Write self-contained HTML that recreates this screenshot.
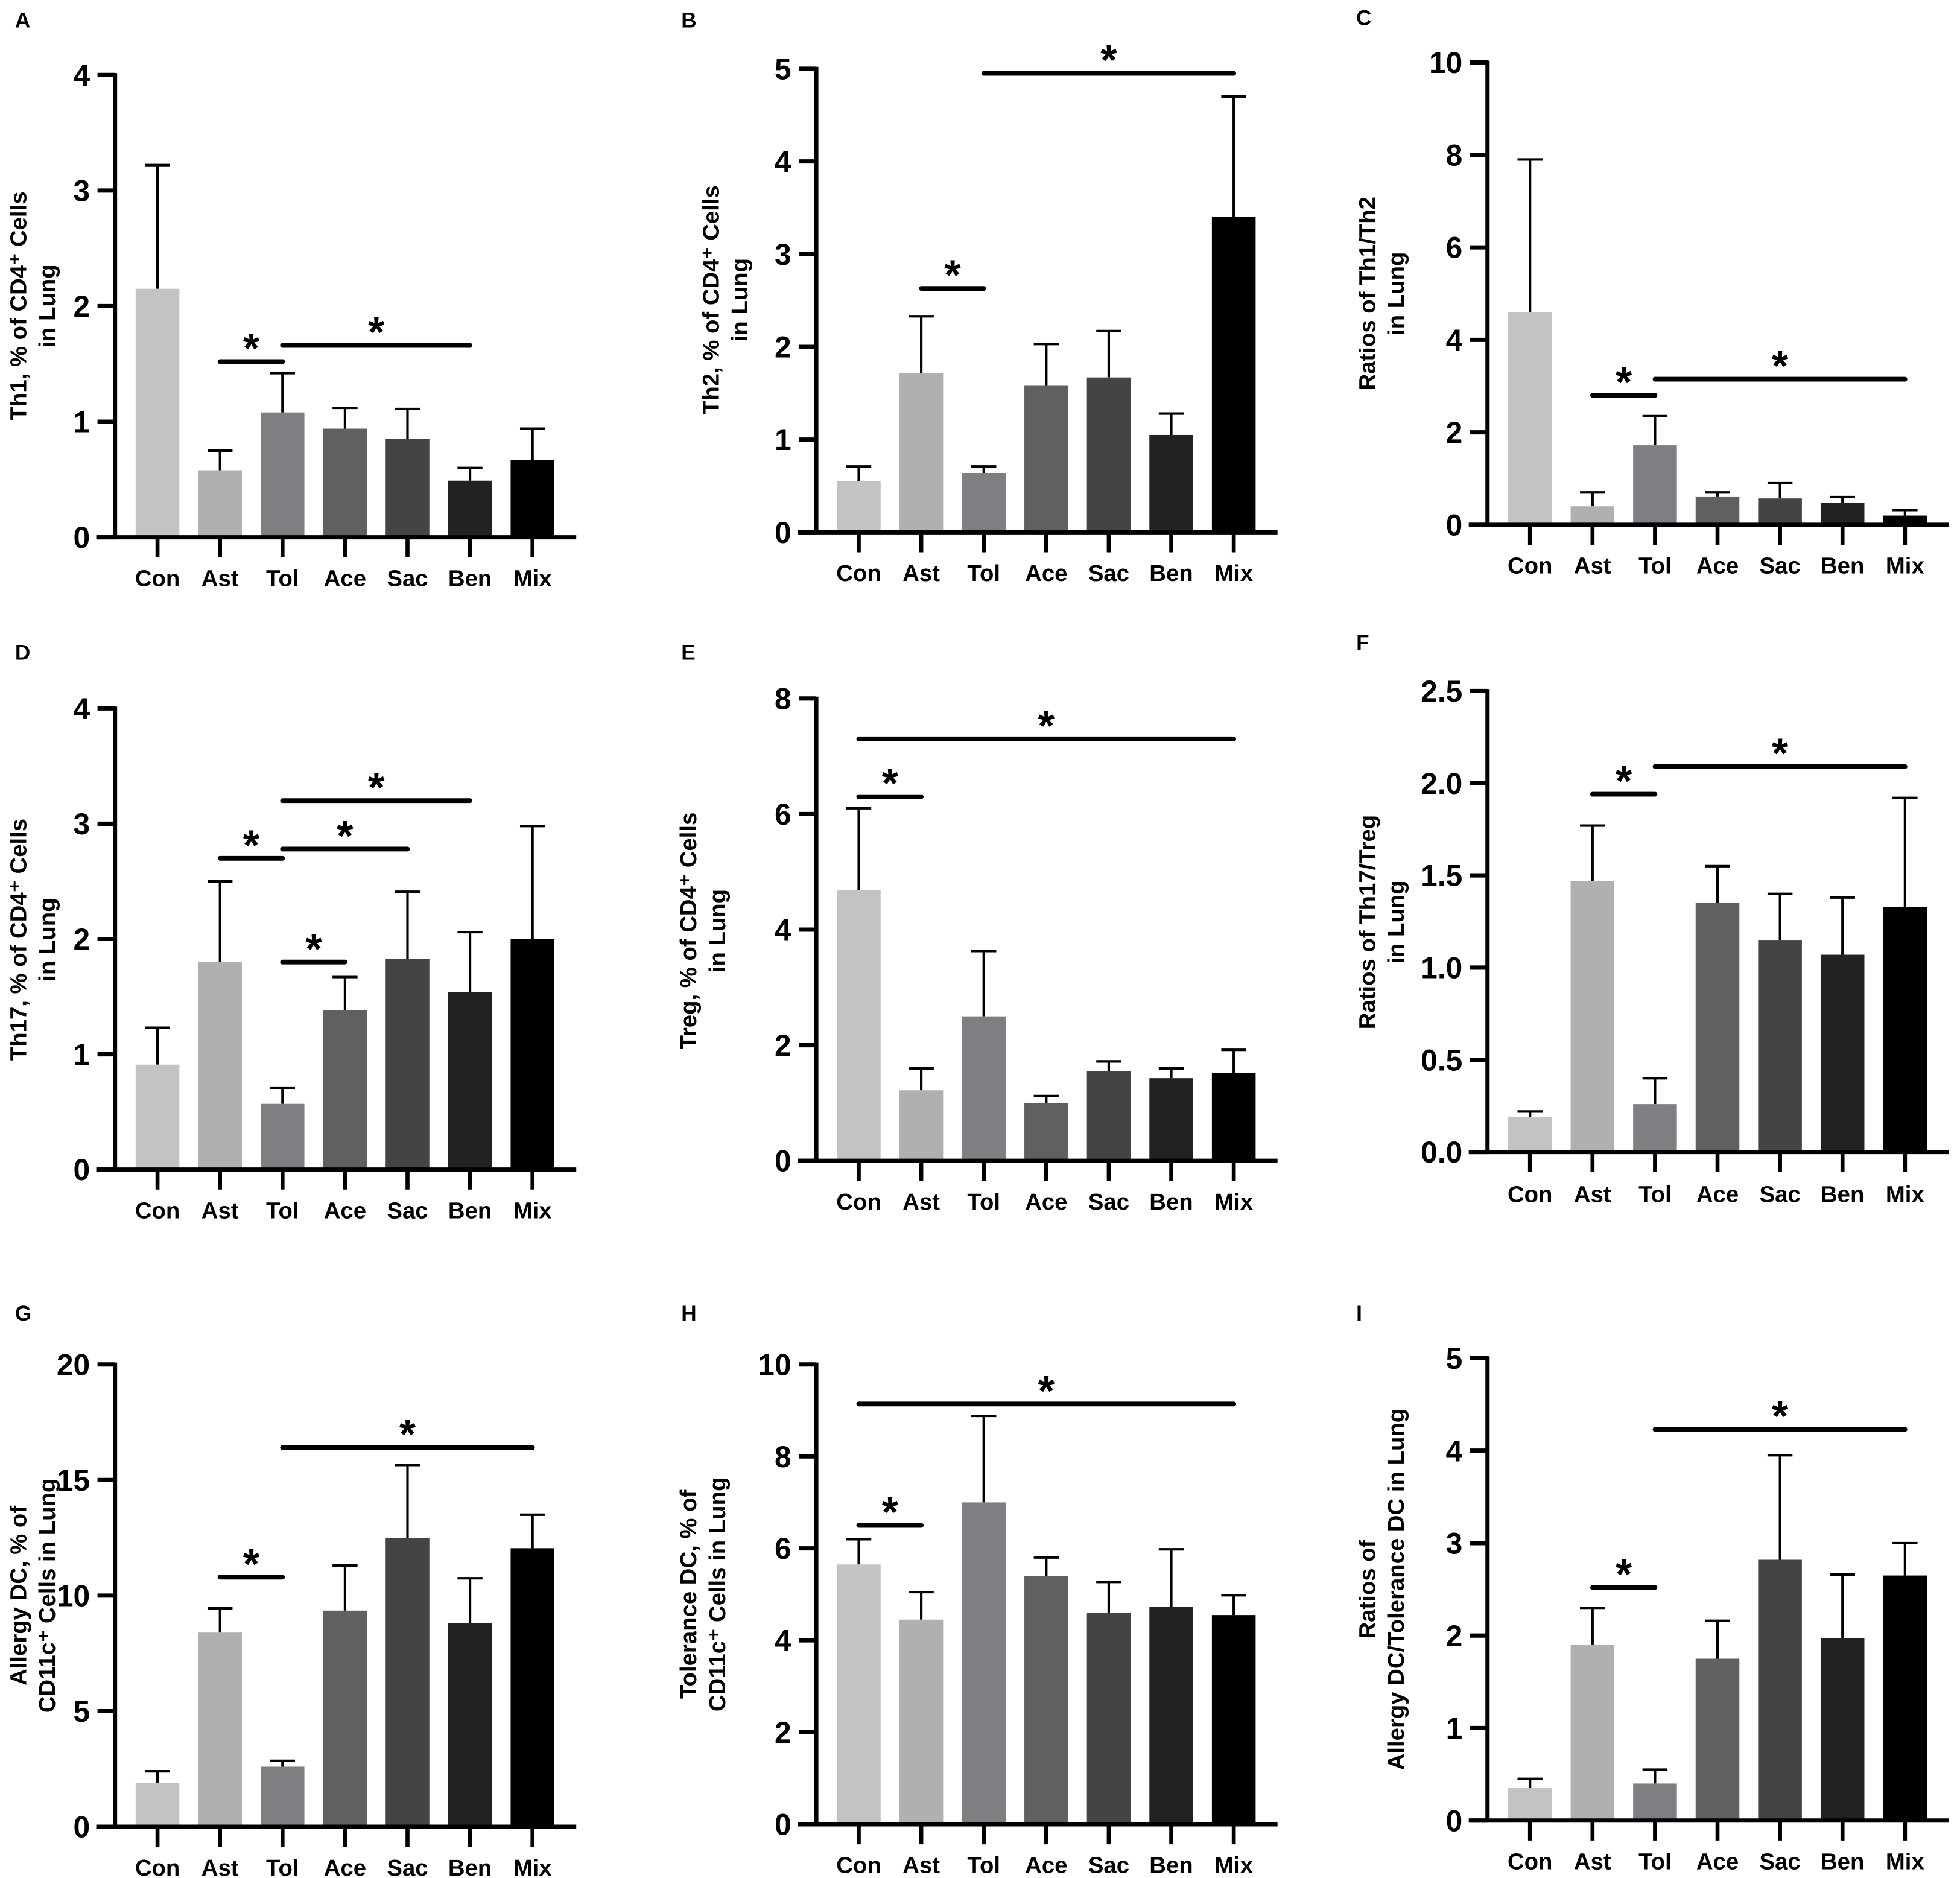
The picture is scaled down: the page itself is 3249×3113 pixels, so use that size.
<!DOCTYPE html>
<html><head><meta charset="utf-8"><style>
html,body{margin:0;padding:0;background:#fff}
svg{display:block}
text{font-family:"Liberation Sans",Arial,sans-serif;font-weight:bold;fill:#000}
</style></head><body>
<svg id="chart" width="3249" height="3113" viewBox="0 0 1568 1503" preserveAspectRatio="none" xmlns="http://www.w3.org/2000/svg"></svg>
<script>
const categories = ["Con","Ast","Tol","Ace","Sac","Ben","Mix"];
const valsA = [2.15,0.58,1.08,0.94,0.85,0.49,0.67];
const errA  = [3.22,0.75,1.42,1.12,1.11,0.60,0.94];
const valsB = [0.55,1.72,0.64,1.58,1.67,1.05,3.4];
const errB  = [0.71,2.33,0.71,2.03,2.17,1.28,4.7];
const valsC = [4.6,0.4,1.72,0.6,0.57,0.47,0.2];
const errC  = [7.9,0.7,2.35,0.7,0.9,0.6,0.32];
const valsD = [0.91,1.8,0.57,1.38,1.83,1.54,2.0];
const errD  = [1.23,2.5,0.71,1.67,2.41,2.06,2.98];
const valsE = [4.68,1.22,2.5,1.0,1.55,1.43,1.52];
const errE  = [6.1,1.6,3.63,1.12,1.72,1.6,1.92];
const valsF = [0.19,1.47,0.26,1.35,1.15,1.07,1.33];
const errF  = [0.22,1.77,0.4,1.55,1.4,1.38,1.92];
const valsG = [1.9,8.4,2.6,9.35,12.5,8.8,12.05];
const errG  = [2.4,9.45,2.85,11.3,15.65,10.75,13.5];
const valsH = [5.65,4.45,7.0,5.4,4.6,4.73,4.55];
const errH  = [6.2,5.05,8.88,5.8,5.27,5.98,4.98];
const valsI = [0.35,1.9,0.4,1.75,2.82,1.97,2.65];
const errI  = [0.45,2.3,0.55,2.16,3.95,2.66,3.0];
const ticksA = [0,1,2,3,4], ticksB=[0,1,2,3,4,5], ticksC=[0,2,4,6,8,10], ticksD=[0,1,2,3,4];
const ticksE = [0,2,4,6,8], ticksF=["0.0","0.5","1.0","1.5","2.0","2.5"], ticksG=[0,5,10,15,20];
const ticksH = [0,2,4,6,8,10], ticksI=[0,1,2,3,4,5];
// significance: [fromIndex,toIndex,value-level]
const sigA=[[1,2,1.52],[2,5,1.66]], sigB=[[1,2,2.63],[2,6,4.95]], sigC=[[1,2,2.8],[2,6,3.15]];
const sigD=[[1,2,2.7],[2,5,3.2],[2,4,2.78],[2,3,1.8]], sigE=[[0,1,6.3],[0,6,7.3]], sigF=[[1,2,1.94],[2,6,2.09]];
const sigG=[[1,2,10.8],[2,6,16.4]], sigH=[[0,1,6.5],[0,6,9.14]], sigI=[[1,2,2.52],[2,6,4.23]];
const colors=["#c3c3c3","#b0b0b0","#7f7f83","#606060","#444444","#222222","#000000"];
const panels=[
 {L:"A",lpx:12,lpy:22,ax:92,lx:14,y0:430,ytop:60,max:4,ticks:ticksA,v:valsA,e:errA,s:sigA,lab:["Th1, % of CD4⁺ Cells","in Lung"],ly:245,lab0:469},
 {L:"B",lpx:545,lpy:22,ax:653,lx:568,y0:426,ytop:55,max:5,ticks:ticksB,v:valsB,e:errB,s:sigB,lab:["Th2, % of CD4⁺ Cells","in Lung"],ly:240,lab0:465},
 {L:"C",lpx:1085,lpy:20,ax:1190,lx:1093,y0:420,ytop:50,max:10,ticks:ticksC,v:valsC,e:errC,s:sigC,lab:["Ratios of Th1/Th2","in Lung"],ly:235,lab0:459},
 {L:"D",lpx:12,lpy:528,ax:92,lx:14,y0:936,ytop:567,max:4,ticks:ticksD,v:valsD,e:errD,s:sigD,lab:["Th17, % of CD4⁺ Cells","in Lung"],ly:752,lab0:975},
 {L:"E",lpx:545,lpy:528,ax:653,lx:550,y0:929,ytop:559,max:8,ticks:ticksE,v:valsE,e:errE,s:sigE,lab:["Treg, % of CD4⁺ Cells","in Lung"],ly:745,lab0:968},
 {L:"F",lpx:1085,lpy:520,ax:1190,lx:1093,y0:922,ytop:553,max:2.5,ticks:ticksF,v:valsF,e:errF,s:sigF,lab:["Ratios of Th17/Treg","in Lung"],ly:738,lab0:962},
 {L:"G",lpx:12,lpy:1057,ax:92,lx:14,y0:1462,ytop:1092,max:20,ticks:ticksG,v:valsG,e:errG,s:sigG,lab:["Allergy DC, % of","CD11c⁺ Cells in Lung"],ly:1277,lab0:1501},
 {L:"H",lpx:545,lpy:1057,ax:653,lx:550,y0:1460,ytop:1092,max:10,ticks:ticksH,v:valsH,e:errH,s:sigH,lab:["Tolerance DC, % of","CD11c⁺ Cells in Lung"],ly:1276,lab0:1499},
 {L:"I",lpx:1085,lpy:1057,ax:1190,lx:1093,y0:1457,ytop:1087,max:5,ticks:ticksI,v:valsI,e:errI,s:sigI,lab:["Ratios of","Allergy DC/Tolerance DC in Lung"],ly:1272,lab0:1496}
];
const NS="http://www.w3.org/2000/svg", svg=document.getElementById("chart");
function mk(tag,attrs,parent,txt){const el=document.createElementNS(NS,tag);for(const k in attrs)el.setAttribute(k,attrs[k]);if(txt!==undefined)el.textContent=txt;(parent||svg).appendChild(el);return el;}
panels.forEach(p=>{
  const g=mk("g",{});
  
  
  const yS=v=>p.y0-(v/p.max)*(p.y0-p.ytop);
  const xS=i=>p.ax+34+i*50;
  const pl=mk("text",{x:p.lpx,y:p.lpy,"font-size":17},g,p.L);
  
  
  p.v.forEach((v,i)=>{
    const x=xS(i);
    const eb=mk("path",{d:`M${x} ${yS(v)}V${yS(p.e[i])}M${x-10} ${yS(p.e[i])}H${x+10}`,stroke:"#000","stroke-width":2,fill:"none"},g);
    
    
    const r=mk("rect",{x:x-17.5,y:yS(v),width:35,height:p.y0-yS(v),fill:colors[i]},g);
    
    
    const t=mk("text",{x:x,y:p.lab0,"font-size":18.5,"text-anchor":"middle"},g,categories[i]);
    
    
    mk("line",{x1:x,x2:x,y1:p.y0,y2:p.y0+16,stroke:"#000","stroke-width":3.2},g);
  });
  const ya=mk("line",{x1:p.ax,x2:p.ax,y1:p.ytop-1.5,y2:p.y0+1.5,stroke:"#000","stroke-width":3.4},g);
  
  
  const xa=mk("line",{x1:p.ax-15,x2:xS(6)+35,y1:p.y0,y2:p.y0,stroke:"#000","stroke-width":3.4},g);
  
  
  p.ticks.forEach(t=>{
    const y=yS(parseFloat(t));
    mk("line",{x1:p.ax-14,x2:p.ax,y1:y,y2:y,stroke:"#000","stroke-width":3.4},g);
    const tl=mk("text",{x:p.ax-20,y:y+8.5,"font-size":24,"text-anchor":"end"},g,String(t));
    
    
  });
  p.lab.forEach((s,k)=>{
    const x=p.lx+k*23+7;
    const yl=mk("text",{x:x,y:p.ly,"font-size":18.5,"text-anchor":"middle",transform:`rotate(-90 ${x} ${p.ly})`},g,s);
    
    
  });
  p.s.forEach(s=>{
    const y=yS(s[2]), x1=xS(s[0]), x2=xS(s[1]);
    const sl=mk("line",{x1:x1,x2:x2,y1:y,y2:y,stroke:"#000","stroke-width":3.8,"stroke-linecap":"round"},g);
    
    
    const st=mk("text",{x:(x1+x2)/2,y:y+1,"font-size":34,"text-anchor":"middle"},g,"*");
    
    
  });
});
</script>
</body></html>
